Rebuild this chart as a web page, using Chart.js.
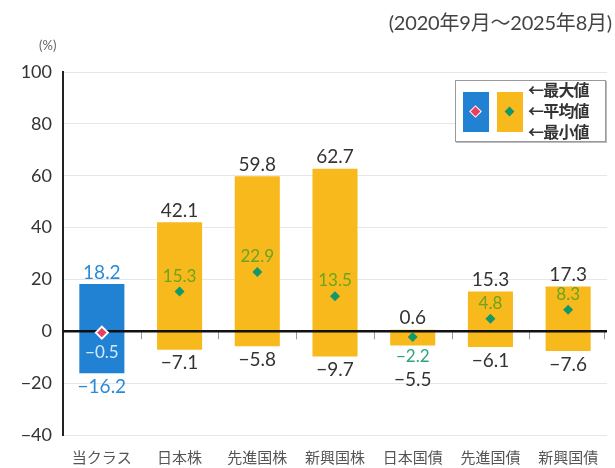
<!DOCTYPE html>
<html lang="ja">
<head>
<meta charset="utf-8">
<script src="https://cdn.jsdelivr.net/npm/chart.js@4/dist/chart.umd.min.js"></script>
<style>
  html, body { margin: 0; padding: 0; background: #fff; }
  #wrap { position: relative; width: 615px; height: 468px; font-family: 'Lato', 'Noto Sans CJK JP', sans-serif; }
  #chart { position: absolute; left: 0; top: 0; }
  .period { position: absolute; right: 3px; top: 7px; font-size: 20px; color: #444; font-family: 'Lato', 'Noto Sans CJK JP', sans-serif; letter-spacing: -0.2px; }
  .unit { position: absolute; left: 39px; top: 37px; font-size: 13px; color: #666; }
  .legend { position: absolute; left: 455px; top: 80px; width: 151px; height: 62px; border: 1px solid #999; box-shadow: 1px 1px 0 #bbb; background: #fff; box-sizing: border-box; }
  .legend .sw { position: absolute; top: 11px; width: 26px; height: 40px; }
  .legend .dia { position: absolute; left: 9px; top: 16px; width: 7px; height: 7px; transform: rotate(45deg); }
  .legend .txt { position: absolute; left: 72px; font-size: 16px; font-weight: bold; color: #333; font-family: 'Noto Sans CJK JP', sans-serif; line-height: 18px; letter-spacing: -0.8px; }
</style>
</head>
<body>
<div id="wrap">
  <canvas id="chart" width="615" height="468"></canvas>
  <div class="period">(2020年9月～2025年8月)</div>
  <div class="unit">(%)</div>
  <div class="legend">
    <div class="sw" style="left:7px;background:#2182d4;"><div class="dia" style="background:#e8405e;border:1px solid #fff;left:8px;top:15px;"></div></div>
    <div class="sw" style="left:41px;background:#f7b91c;"><div class="dia" style="background:#12986a;"></div></div>
    <div class="txt" style="top:-1px;">←最大値</div>
    <div class="txt" style="top:20px;">←平均値</div>
    <div class="txt" style="top:41px;">←最小値</div>
  </div>
</div>
<script>
'use strict';

const categories = ['当クラス', '日本株', '先進国株', '新興国株', '日本国債', '先進国債', '新興国債'];
const maxValues = [18.2, 42.1, 59.8, 62.7, 0.6, 15.3, 17.3];
const avgValues = [-0.5, 15.3, 22.9, 13.5, -2.2, 4.8, 8.3];
const minValues = [-16.2, -7.1, -5.8, -9.7, -5.5, -6.1, -7.6];
const yTicks = [-40, -20, 0, 20, 40, 60, 80, 100];

const BLUE = '#2182d4';
const YELLOW = '#f7b91c';
const NUM_FONT = "'Lato', 'DejaVu Sans', sans-serif";

const fmt = function(v) {
    return (v < 0 ? '−' : '') + Math.abs(v).toFixed(1);
};

// zero line drawn over the bars, plus small ticks at category borders
const zeroLine = {
    id: 'zeroLine',
    afterDatasetDraw: function(chart, args) {
        if (args.index !== 0) return;
        const ctx = chart.ctx;
        const x = chart.scales.x, y = chart.scales.y;
        const y0 = y.getPixelForValue(0);
        const step = x.getPixelForValue(1) - x.getPixelForValue(0);
        ctx.save();
        ctx.strokeStyle = '#999';
        ctx.lineWidth = 1;
        for (let i = 0; i < categories.length; i++) {
            let px = Math.round(x.getPixelForValue(i) + step / 2) + 0.5;
            if (px > chart.chartArea.right - 2) px = chart.chartArea.right - 2.5;
            ctx.beginPath();
            ctx.moveTo(px, y0);
            ctx.lineTo(px, y0 + 8);
            ctx.stroke();
        }
        ctx.strokeStyle = '#111';
        ctx.lineWidth = 2.5;
        ctx.beginPath();
        ctx.moveTo(chart.chartArea.left, y0);
        ctx.lineTo(chart.chartArea.right, y0);
        ctx.stroke();
        ctx.restore();
    }
};

const valueLabels = {
    id: 'valueLabels',
    afterDatasetsDraw: function(chart) {
        const ctx = chart.ctx;
        const x = chart.scales.x, y = chart.scales.y;
        ctx.save();
        ctx.textAlign = 'center';
        categories.forEach(function(c, i) {
            const cx = x.getPixelForValue(i);
            const top = y.getPixelForValue(maxValues[i]);
            const bottom = y.getPixelForValue(minValues[i]);
            const ay = y.getPixelForValue(avgValues[i]);
            const first = i === 0;

            ctx.font = '19px ' + NUM_FONT;
            ctx.fillStyle = first ? '#2a8ad8' : '#333';
            ctx.textBaseline = 'bottom';
            ctx.fillText(fmt(maxValues[i]), cx, top - 2);

            let avgBottom = -Infinity;
            ctx.font = '17px ' + NUM_FONT;
            if (first) ctx.fillStyle = '#d5e9f8';
            else if (avgValues[i] < 0) ctx.fillStyle = '#2fa57a';
            else ctx.fillStyle = '#6aa51e';
            if (avgValues[i] < 0) {
                ctx.textBaseline = 'top';
                ctx.fillText(fmt(avgValues[i]), cx, ay + 11);
                avgBottom = ay + 11 + 21;
            } else {
                ctx.textBaseline = 'bottom';
                ctx.fillText(fmt(avgValues[i]), cx, ay - 7);
            }

            ctx.font = '19px ' + NUM_FONT;
            ctx.fillStyle = first ? '#2a8ad8' : '#333';
            ctx.textBaseline = 'top';
            ctx.fillText(fmt(minValues[i]), cx, Math.max(bottom + 4, avgBottom + 1));
        });
        ctx.restore();
    }
};

new Chart(document.getElementById('chart'), {
    data: {
        labels: categories,
        datasets: [
            {
                type: 'bar',
                order: 2,
                data: categories.map(function(c, i) { return [minValues[i], maxValues[i]]; }),
                backgroundColor: categories.map(function(c, i) { return i === 0 ? BLUE : YELLOW; }),
                borderWidth: 0,
                categoryPercentage: 1,
                barPercentage: 0.58
            },
            {
                type: 'line',
                order: 1,
                data: avgValues,
                showLine: false,
                pointStyle: 'rectRot',
                pointRadius: categories.map(function(c, i) { return i === 0 ? 6 : 5; }),
                pointBackgroundColor: categories.map(function(c, i) { return i === 0 ? '#e8405e' : '#12986a'; }),
                pointBorderColor: categories.map(function(c, i) { return i === 0 ? '#fff' : YELLOW; }),
                pointBorderWidth: categories.map(function(c, i) { return i === 0 ? 2 : 0; })
            }
        ]
    },
    options: {
        responsive: false,
        animation: false,
        layout: { padding: { top: 72, right: 0, bottom: 0, left: 0 } },
        plugins: {
            legend: { display: false },
            tooltip: { enabled: false }
        },
        scales: {
            x: {
                grid: { display: false },
                border: { display: false },
                ticks: {
                    color: '#555',
                    padding: 5,
                    font: { family: "'Noto Sans CJK JP', sans-serif", size: 15 }
                },
                afterFit: function(s) { s.height = 33; }
            },
            y: {
                min: -40,
                max: 100,
                afterBuildTicks: function(s) { s.ticks = yTicks.map(function(v) { return { value: v }; }); },
                grid: {
                    color: '#e6e6e6',
                    lineWidth: 1,
                    drawTicks: false
                },
                border: { display: true, color: '#222', width: 2 },
                ticks: {
                    color: '#333',
                    padding: 11,
                    font: { family: NUM_FONT, size: 18 },
                    callback: function(v) { return v < 0 ? '−' + Math.abs(v) : String(v); }
                },
                afterFit: function(s) { s.width = 63; }
            }
        }
    },
    plugins: [zeroLine, valueLabels]
});
</script>
</body>
</html>
